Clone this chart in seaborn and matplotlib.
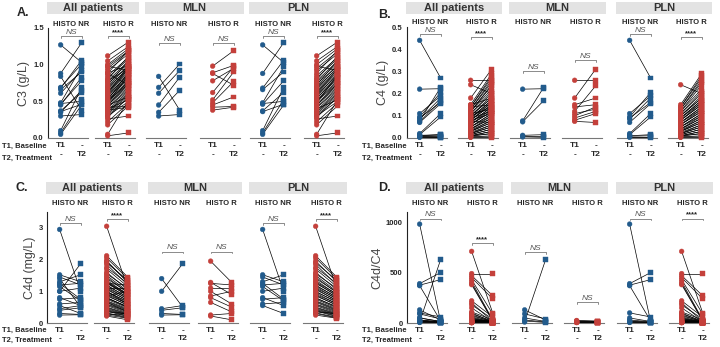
import numpy as np
import pandas as pd
import matplotlib
matplotlib.use('Agg')
import matplotlib.pyplot as plt
import seaborn as sns
from matplotlib.patches import Rectangle

sns.set_style('white')
plt.rcParams['font.family'] = ['Liberation Sans', 'DejaVu Sans']

BLUE = '#225b8c'
RED = '#c4403b'
W, H = 720, 347

# ---------------- data (T1 = baseline, T2 = treatment), paired by position ----------------
# C3 (g/L)
c3_mln_nr_t1 = [0.84, 0.69, 0.61, 0.45, 0.35, 0.30]
c3_mln_nr_t2 = [0.38, 1.01, 0.92, 0.83, 0.65, 0.32]
c3_mln_r_t1 = [0.98, 0.89, 0.88, 0.78, 0.62, 0.52, 0.48, 0.45, 0.42, 0.38]
c3_mln_r_t2 = [1.19, 0.99, 0.72, 0.95, 0.97, 0.90, 0.77, 0.56, 0.43, 0.42]
c3_pln_nr_t1 = [1.27, 0.88, 0.68, 0.66, 0.48, 0.47, 0.46, 0.37, 0.36, 0.10, 0.07, 0.05]
c3_pln_nr_t2 = [1.03, 1.30, 1.06, 0.90, 0.97, 0.50, 0.78, 0.62, 0.46, 0.69, 0.52, 0.45]
c3_pln_r_t1 = [1.12, 1.05, 1.00, 0.98, 0.95, 0.92, 0.88, 0.85, 0.82, 0.80,
               0.78, 0.76, 0.74, 0.72, 0.70, 0.69, 0.67, 0.66, 0.64, 0.62,
               0.61, 0.60, 0.58, 0.57, 0.55, 0.54, 0.52, 0.51, 0.50, 0.48,
               0.47, 0.45, 0.44, 0.42, 0.41, 0.40, 0.38, 0.36, 0.35, 0.33,
               0.31, 0.30, 0.28, 0.26, 0.22, 0.18, 0.05, 0.03]
c3_pln_r_t2 = [1.31, 1.25, 1.22, 0.92, 1.18, 1.15, 1.20, 1.10, 1.08, 1.12,
               1.05, 1.02, 0.98, 1.06, 1.00, 0.95, 0.97, 0.93, 0.90, 0.88,
               0.94, 0.85, 0.87, 0.83, 0.80, 0.82, 0.78, 0.76, 0.74, 0.86,
               0.72, 0.70, 0.75, 0.68, 0.66, 0.52, 0.64, 0.62, 0.60, 0.58,
               0.55, 0.50, 0.56, 0.30, 0.48, 0.44, 0.52, 0.07]

# C4 (g/L)
c4_mln_nr_t1 = [0.220, 0.077, 0.073, 0.012, 0.008, 0.005]
c4_mln_nr_t2 = [0.222, 0.228, 0.168, 0.015, 0.006, 0.003]
c4_mln_r_t1 = [0.26, 0.18, 0.15, 0.14, 0.12, 0.11, 0.10, 0.09, 0.08, 0.075]
c4_mln_r_t2 = [0.26, 0.31, 0.18, 0.15, 0.235, 0.13, 0.14, 0.12, 0.11, 0.07]
c4_pln_nr_t1 = [0.44, 0.11, 0.095, 0.09, 0.085, 0.07, 0.02, 0.015, 0.01, 0.008, 0.005, 0.003]
c4_pln_nr_t2 = [0.27, 0.19, 0.205, 0.16, 0.18, 0.155, 0.11, 0.095, 0.015, 0.01, 0.005, 0.003]
c4_pln_r_t1 = [0.24, 0.15, 0.14, 0.14, 0.13, 0.13, 0.12, 0.12, 0.11, 0.11,
               0.10, 0.10, 0.10, 0.09, 0.09, 0.09, 0.08, 0.08, 0.08, 0.07,
               0.07, 0.07, 0.06, 0.06, 0.06, 0.05, 0.05, 0.05, 0.04, 0.04,
               0.04, 0.035, 0.03, 0.03, 0.03, 0.025, 0.02, 0.02, 0.02, 0.015,
               0.015, 0.01, 0.01, 0.01, 0.008, 0.005, 0.004, 0.003]
c4_pln_r_t2 = [0.20, 0.29, 0.28, 0.27, 0.26, 0.25, 0.24, 0.22, 0.21, 0.20,
               0.19, 0.18, 0.18, 0.17, 0.17, 0.16, 0.16, 0.15, 0.15, 0.14,
               0.14, 0.13, 0.13, 0.12, 0.12, 0.11, 0.11, 0.10, 0.10, 0.09,
               0.09, 0.08, 0.08, 0.07, 0.07, 0.06, 0.06, 0.05, 0.05, 0.04,
               0.04, 0.03, 0.03, 0.02, 0.02, 0.01, 0.005, 0.003]

# C4d (mg/L)
c4d_mln_nr_t1 = [1.40, 1.00, 0.45, 0.40, 0.30, 0.25]
c4d_mln_nr_t2 = [0.50, 1.87, 0.55, 0.48, 0.27, 0.26]
c4d_mln_r_t1 = [1.95, 1.28, 1.25, 1.10, 1.00, 0.85, 0.80, 0.65, 0.25, 0.22]
c4d_mln_r_t2 = [1.28, 0.90, 1.20, 1.10, 0.60, 1.00, 0.50, 0.35, 0.30, 0.10]
c4d_pln_nr_t1 = [2.95, 1.52, 1.45, 1.30, 1.25, 1.20, 1.15, 1.00, 0.80, 0.75, 0.60, 0.55]
c4d_pln_nr_t2 = [1.00, 1.30, 1.20, 1.52, 0.75, 1.25, 0.70, 1.10, 0.55, 0.80, 0.65, 0.30]
c4d_pln_r_t1 = [3.05, 2.12, 2.05, 1.95, 1.90, 1.85, 1.75, 1.70, 1.60, 1.55,
                1.50, 1.45, 1.40, 1.35, 1.30, 1.28, 1.25, 1.20, 1.18, 1.15,
                1.10, 1.08, 1.05, 1.00, 0.98, 0.95, 0.90, 0.88, 0.85, 0.80,
                0.78, 0.75, 0.70, 0.68, 0.65, 0.60, 0.58, 0.55, 0.50, 0.48,
                0.45, 0.42, 0.40, 0.38, 0.35, 0.32, 0.30, 0.25]
c4d_pln_r_t2 = [1.10, 1.45, 1.40, 1.30, 1.35, 1.20, 1.25, 1.15, 1.05, 1.10,
                1.00, 0.95, 0.98, 0.90, 0.92, 0.85, 0.88, 0.80, 0.82, 0.75,
                0.78, 0.70, 0.72, 0.65, 0.68, 0.60, 0.62, 0.55, 0.58, 0.50,
                0.52, 0.48, 0.45, 0.42, 0.40, 0.38, 0.35, 0.32, 0.30, 0.28,
                0.26, 0.25, 0.22, 0.20, 0.30, 0.18, 0.16, 0.15]

# C4d/C4 ratio
ratio_mln_nr_t1 = [130, 90, 50, 30, 20, 10]
ratio_mln_nr_t2 = [30, 40, 15, 10, 5, 630]
ratio_mln_r_t1 = [25, 20, 15, 12, 10, 8, 7, 6, 5, 4]
ratio_mln_r_t2 = [20, 15, 12, 10, 8, 7, 6, 5, 4, 3]
ratio_pln_nr_t1 = [980, 390, 375, 370, 100, 50, 30, 20, 15, 10, 8, 5]
ratio_pln_nr_t2 = [10, 500, 430, 20, 60, 15, 12, 8, 6, 5, 4, 3]
ratio_pln_r_t1 = [710, 490, 470, 450, 430, 410, 390, 380, 220, 200,
                  180, 150, 110, 100, 90, 80, 70, 60, 50, 45,
                  40, 35, 30, 28, 25, 22, 20, 18, 16, 15,
                  14, 13, 12, 11, 10, 10, 9, 9, 8, 8,
                  7, 7, 6, 6, 5, 5, 4, 3]
ratio_pln_r_t2 = [100, 490, 270, 240, 90, 30, 25, 20, 60, 15,
                  40, 12, 30, 10, 20, 10, 15, 8, 12, 8,
                  10, 9, 8, 7, 7, 6, 6, 5, 5, 5,
                  4, 4, 4, 4, 3, 3, 3, 3, 3, 2,
                  2, 2, 2, 2, 2, 1, 1, 1]

headers = ['All patients', 'MLN', 'PLN']
histo_labels = ['HISTO NR', 'HISTO R'] * 3


def six_groups(mnr1, mnr2, mr1, mr2, pnr1, pnr2, pr1, pr2):
    # All patients = MLN + PLN
    return [(mnr1 + pnr1, mnr2 + pnr2, BLUE), (mr1 + pr1, mr2 + pr2, RED),
            (mnr1, mnr2, BLUE), (mr1, mr2, RED),
            (pnr1, pnr2, BLUE), (pr1, pr2, RED)]


def paired_df(t1, t2):
    n = len(t1)
    return pd.DataFrame({'pid': list(range(n)) * 2,
                         'time': [0] * n + [1] * n,
                         'value': list(t1) + list(t2)})


panels = [
    dict(letter='A.', letter_xy=(17, 13), ylabel='C3 (g/L)',
         groups=six_groups(c3_mln_nr_t1, c3_mln_nr_t2, c3_mln_r_t1, c3_mln_r_t2,
                           c3_pln_nr_t1, c3_pln_nr_t2, c3_pln_r_t1, c3_pln_r_t2),
         ylim=(0, 1.5), yticks=[0, 0.5, 1.0, 1.5], yticklabels=['0.0', '0.5', '1.0', '1.5'],
         x0=48, offs=[0, 47, 98, 152, 202, 256], top=28, bottom=138,
         head=(2, 14), histo_y=24, rows=(146, 158), row_x=2, ls=1.45,
         sig=[(1.39, 'NS'), (1.39, '****'), (1.29, 'NS'), (1.29, 'NS'), (1.39, 'NS'), (1.39, '****')]),
    dict(letter='B.', letter_xy=(378, 15), ylabel='C4 (g/L)',
         groups=six_groups(c4_mln_nr_t1, c4_mln_nr_t2, c4_mln_r_t1, c4_mln_r_t2,
                           c4_pln_nr_t1, c4_pln_nr_t2, c4_pln_r_t1, c4_pln_r_t2),
         ylim=(0, 0.5), yticks=[0, 0.1, 0.2, 0.3, 0.4, 0.5],
         yticklabels=['0.0', '0.1', '0.2', '0.3', '0.4', '0.5'],
         x0=407, offs=[0, 51, 103, 155, 210, 261], top=27, bottom=138,
         head=(2, 14), histo_y=23, rows=(146, 158), row_x=362, ls=1.45,
         sig=[(0.468, 'NS'), (0.455, '****'), (0.30, 'NS'), (0.35, 'NS'), (0.468, 'NS'), (0.455, '****')]),
    dict(letter='C.', letter_xy=(15, 188), ylabel='C4d (mg/L)',
         groups=six_groups(c4d_mln_nr_t1, c4d_mln_nr_t2, c4d_mln_r_t1, c4d_mln_r_t2,
                           c4d_pln_nr_t1, c4d_pln_nr_t2, c4d_pln_r_t1, c4d_pln_r_t2),
         ylim=(0, 3.5), yticks=[0, 1, 2, 3], yticklabels=['0', '1', '2', '3'],
         x0=47, offs=[0, 47, 102, 151, 203, 256], top=212, bottom=323,
         head=(182, 194), histo_y=203, rows=(330, 340), row_x=2, ls=1.2,
         sig=[(3.15, 'NS'), (3.28, '****'), (2.25, 'NS'), (2.25, 'NS'), (3.15, 'NS'), (3.28, '****')]),
    dict(letter='D.', letter_xy=(378, 188), ylabel='C4d/C4',
         groups=six_groups(ratio_mln_nr_t1, ratio_mln_nr_t2, ratio_mln_r_t1, ratio_mln_r_t2,
                           ratio_pln_nr_t1, ratio_pln_nr_t2, ratio_pln_r_t1, ratio_pln_r_t2),
         ylim=(0, 1100), yticks=[0, 500, 1000], yticklabels=['0', '500', '1000'],
         x0=407, offs=[0, 52, 105, 157, 210, 262], top=212, bottom=323,
         head=(182, 194), histo_y=203, rows=(330, 340), row_x=362, ls=1.2,
         sig=[(1035, 'NS'), (790, '****'), (700, 'NS'), (205, 'NS'), (1035, 'NS'), (1035, '****')]),
]

fig = plt.figure(figsize=(7.2, 3.47), dpi=100)
SUB_W = 40

for p in panels:
    lefts = [p['x0'] + o for o in p['offs']]
    for i, (t1, t2, col) in enumerate(p['groups']):
        ax = fig.add_axes([lefts[i] / W, 1 - p['bottom'] / H,
                           SUB_W / W, (p['bottom'] - p['top']) / H])
        df = paired_df(t1, t2)
        sns.lineplot(data=df, x='time', y='value', units='pid', estimator=None,
                     color='black', lw=0.5, ax=ax, legend=False)
        sns.scatterplot(data=df, x='time', y='value', style='time',
                        markers={0: 'o', 1: 's'}, color=col, s=12,
                        edgecolor=col, linewidth=0.3, ax=ax, legend=False,
                        zorder=3, clip_on=False)
        ax.set_xlim(-0.6, 1.3)
        ax.set_ylim(*p['ylim'])
        ax.set_xlabel('')
        ax.set_ylabel('')
        ax.set_xticks([0, 1])
        ax.set_xticklabels(['T1\n-', '-\nT2'], fontsize=6, fontweight='bold',
                           linespacing=p['ls'])
        ax.tick_params(axis='x', length=2, width=0.6, pad=1, color='#666')
        for s in ['top', 'right']:
            ax.spines[s].set_visible(False)
        ax.spines['bottom'].set_color('#777')
        ax.spines['bottom'].set_linewidth(0.8)
        if i == 0:
            ax.set_yticks(p['yticks'])
            ax.set_yticklabels(p['yticklabels'], fontsize=5.5, fontweight='bold')
            ax.tick_params(axis='y', length=2, width=0.6, pad=1)
            ax.spines['left'].set_color('#222')
            ax.spines['left'].set_linewidth(0.8)
            ax.set_ylabel(p['ylabel'], fontsize=9, color='#444', labelpad=2)
        else:
            ax.spines['left'].set_visible(False)
            ax.set_yticks([])

        # significance bracket
        yb, lab = p['sig'][i]
        d = p['ylim'][1] * 0.015
        ax.plot([0, 0, 1, 1], [yb - d, yb, yb, yb - d], color='#777', lw=0.6,
                clip_on=False)
        if lab == 'NS':
            ax.text(0.5, yb + d * 0.2, 'NS', ha='center', va='bottom', fontsize=6,
                    style='italic', color='#555', clip_on=False)
        else:
            ax.text(0.5, yb + d * 0.1, lab, ha='center', va='bottom', fontsize=5.5,
                    fontweight='bold', color='#222', clip_on=False)

        # HISTO label above subplot
        cx = lefts[i] + SUB_W * (0.6 + 0.5) / 1.9
        fig.text(cx / W, 1 - p['histo_y'] / H, histo_labels[i], ha='center',
                 va='center', fontsize=5.5, fontweight='bold')

    # grey header boxes
    y0, y1 = p['head']
    for k, name in enumerate(headers):
        bx0 = lefts[2 * k] - 1
        bx1 = lefts[2 * k + 1] + SUB_W + 4
        fig.patches.append(Rectangle((bx0 / W, 1 - y1 / H), (bx1 - bx0) / W,
                                     (y1 - y0) / H, transform=fig.transFigure,
                                     facecolor='#e3e3e3', edgecolor='none'))
        fig.text((bx0 + bx1) / 2 / W, 1 - (y0 + y1) / 2 / H, name, ha='center',
                 va='center', fontsize=8, fontweight='bold', color='#333')

    fig.text(p['letter_xy'][0] / W, 1 - p['letter_xy'][1] / H, p['letter'],
             ha='left', va='center', fontsize=9, fontweight='bold')
    fig.text(p['row_x'] / W, 1 - p['rows'][0] / H, 'T1, Baseline', ha='left',
             va='center', fontsize=5.5, fontweight='bold')
    fig.text(p['row_x'] / W, 1 - p['rows'][1] / H, 'T2, Treatment', ha='left',
             va='center', fontsize=5.5, fontweight='bold')

fig.savefig('out.png', dpi=100)
